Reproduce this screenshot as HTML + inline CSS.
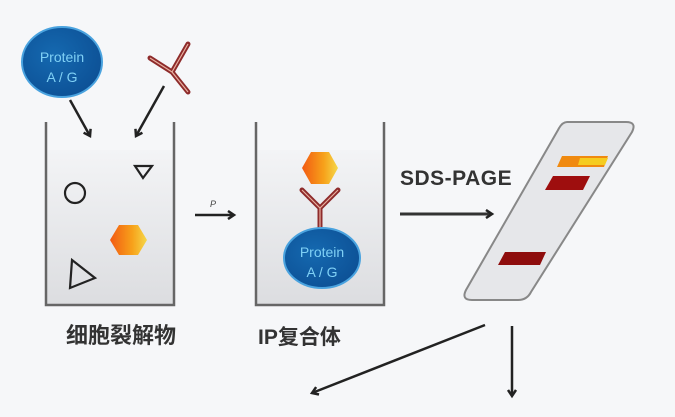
<!DOCTYPE html>
<html><head><meta charset="utf-8"><style>
html,body{margin:0;padding:0;background:#f6f7f9;}
svg{display:block}
text{font-family:"Liberation Sans","Noto Sans CJK SC",sans-serif}
</style></head><body>
<svg width="675" height="417" viewBox="0 0 675 417" xmlns="http://www.w3.org/2000/svg">
<defs>
<linearGradient id="hx" x1="0" x2="1"><stop offset="0" stop-color="#f25a12"/><stop offset="0.6" stop-color="#f7a11a"/><stop offset="1" stop-color="#f5d84a"/></linearGradient>
<linearGradient id="bk" x1="0" y1="0" x2="0" y2="1"><stop offset="0" stop-color="#f3f4f6"/><stop offset="1" stop-color="#dcdde0"/></linearGradient>
<radialGradient id="pe" cx="0.4" cy="0.4" r="0.7"><stop offset="0" stop-color="#1569b0"/><stop offset="1" stop-color="#0c4f94"/></radialGradient>
<marker id="ah" markerWidth="10" markerHeight="10" refX="7" refY="5" orient="auto" markerUnits="userSpaceOnUse"><path d="M1,1 L7,5 L1,9" fill="none" stroke="#222" stroke-width="2.5"/></marker>
</defs>
<rect x="46" y="150" width="128" height="155" fill="url(#bk)"/>
<path d="M46,122 V305 H174 V122" fill="none" stroke="#666" stroke-width="2.5"/>
<rect x="256" y="150" width="128" height="155" fill="url(#bk)"/>
<path d="M256,122 V305 H384 V122" fill="none" stroke="#666" stroke-width="2.5"/>
<ellipse cx="62" cy="62" rx="40" ry="35" fill="url(#pe)" stroke="#4aa3df" stroke-width="2"/>
<text x="62" y="62" font-size="14" fill="#7fd0f5" text-anchor="middle">Protein</text>
<text x="62" y="82" font-size="14" fill="#7fd0f5" text-anchor="middle">A / G</text>
<line x1="70" y1="100" x2="90" y2="136" stroke="#222" stroke-width="2.5" marker-end="url(#ah)"/>
<g stroke="#8e2b2b" stroke-width="5" fill="none" stroke-linecap="round">
<path d="M150,58 L172,72 L188,92 M172,72 L188,44"/>
</g>
<g stroke="#e8b0a0" stroke-width="1.2" fill="none"><path d="M150,58 L172,72 L188,92 M172,72 L188,44"/></g>
<line x1="164" y1="86" x2="136" y2="136" stroke="#222" stroke-width="2.5" marker-end="url(#ah)"/>
<circle cx="75" cy="193" r="10" fill="none" stroke="#222" stroke-width="2.2"/>
<path d="M135,166 L152,166 L143,178 Z" fill="none" stroke="#222" stroke-width="2.2"/>
<polygon points="110,240 119,225 138,225 147,240 138,255 119,255" fill="url(#hx)"/>
<path d="M72,260 L95,278 L70,288 Z" fill="none" stroke="#222" stroke-width="2.2"/>
<text x="66" y="343" font-size="22" fill="#333" font-weight="bold">细胞裂解物</text>
<line x1="195" y1="215" x2="234" y2="215" stroke="#222" stroke-width="2.5" marker-end="url(#ah)"/>
<text x="210" y="207" font-size="9" fill="#444" font-style="italic">P</text>
<polygon points="302,168 311,152 329,152 338,168 329,184 311,184" fill="url(#hx)"/>
<g stroke="#8e2b2b" stroke-width="5" fill="none" stroke-linecap="round">
<path d="M302,190 L320,208 L338,190 M320,208 V232"/>
</g>
<g stroke="#e8b0a0" stroke-width="1.2" fill="none"><path d="M302,190 L320,208 L338,190 M320,208 V232"/></g>
<ellipse cx="322" cy="258" rx="38" ry="30" fill="url(#pe)" stroke="#4aa3df" stroke-width="2"/>
<text x="322" y="257" font-size="14" fill="#7fd0f5" text-anchor="middle">Protein</text>
<text x="322" y="277" font-size="14" fill="#7fd0f5" text-anchor="middle">A / G</text>
<text x="258" y="344" font-size="21" fill="#333" font-weight="bold">IP复合体</text>
<text x="400" y="185" font-size="21" fill="#333" font-weight="bold" letter-spacing="0.5">SDS-PAGE</text>
<line x1="400" y1="214" x2="492" y2="214" stroke="#333" stroke-width="3" marker-end="url(#ah)"/>
<path d="M567,122 L626,122 Q637,122 632,132 L531,292 Q527,300 518,300 L472,300 Q461,300 466,290 L558,130 Q562,122 567,122 Z" fill="#e6e7ea" stroke="#888" stroke-width="2"/>
<polygon points="562,156 608,156 604,167 557,167" fill="#f08a10"/>
<polygon points="580,158 608,158 605,165 578,165" fill="#f5cc20"/>
<polygon points="553,176 590,176 583,190 545,190" fill="#9e0e0e"/>
<polygon points="505,252 546,252 540,265 498,265" fill="#8e0d0d"/>
<line x1="485" y1="325" x2="312" y2="393" stroke="#222" stroke-width="2.5" marker-end="url(#ah)"/>
<line x1="512" y1="326" x2="512" y2="396" stroke="#222" stroke-width="2.5" marker-end="url(#ah)"/>
</svg>
</body></html>
